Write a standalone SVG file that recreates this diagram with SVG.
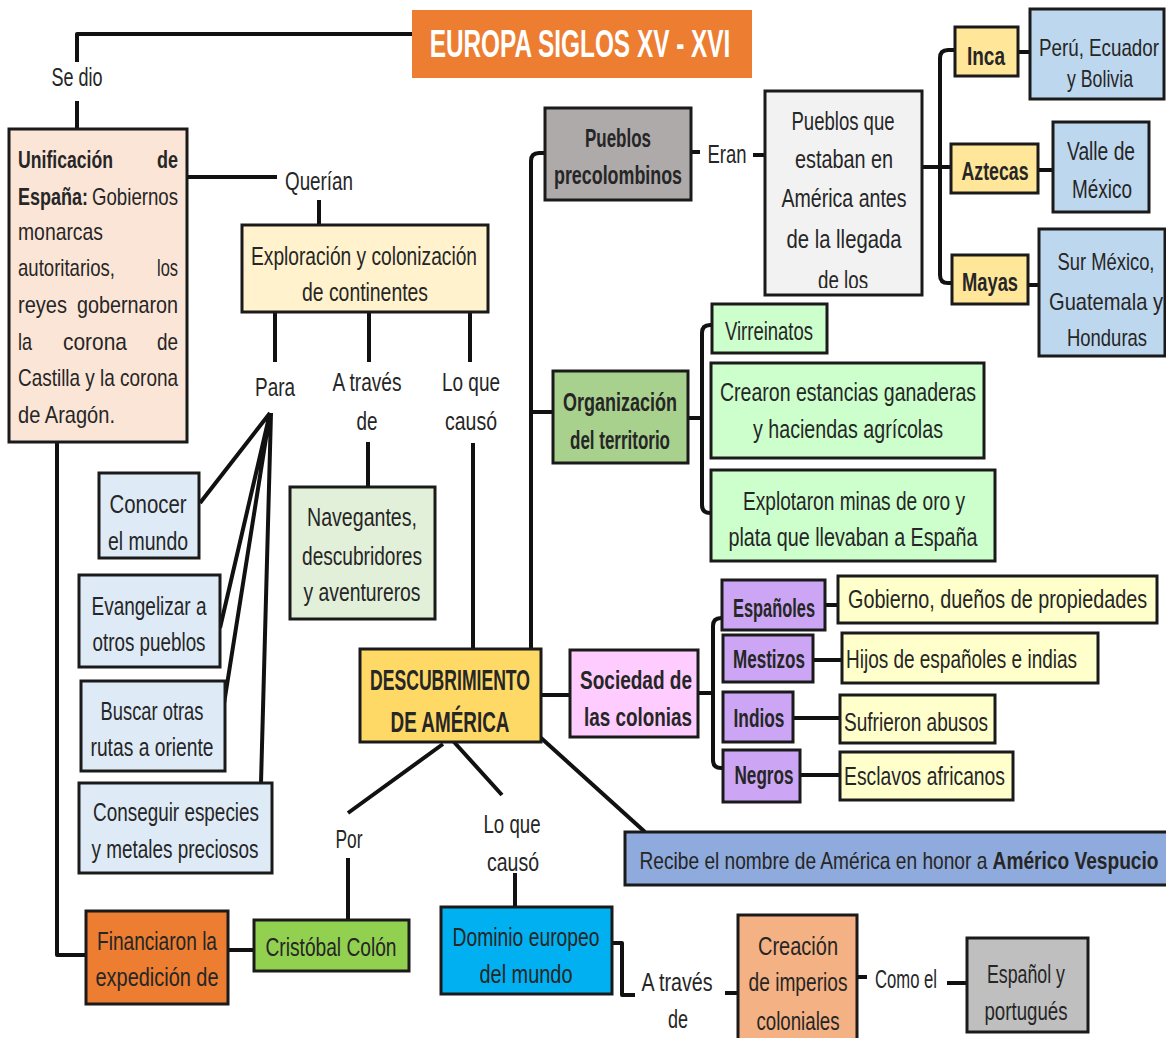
<svg xmlns="http://www.w3.org/2000/svg" width="1166" height="1038" viewBox="0 0 1166 1038">
<style>
.bx{stroke:#1a1a1a;stroke-width:3}
.ln{fill:none;stroke:#111;stroke-width:4;stroke-linejoin:round}
text{font-family:"Liberation Sans",Arial,sans-serif;font-size:25px;fill:#262626;text-anchor:middle}
.s{text-anchor:start}
.b{font-weight:bold}
.u{font-size:23px}
.m{font-size:24px}
.big{font-size:29px;font-weight:bold}
.ttl{font-size:38px;font-weight:bold;fill:#fff}
</style>
<defs>
<clipPath id="cpq"><rect x="765" y="91" width="157" height="197"/></clipPath>
</defs>
<rect width="1166" height="1038" fill="#fff"/>
<g id="connectors">
<path class="ln" d="M412,34 H77 V62"/>
<path class="ln" d="M77,101 V129"/>
<path class="ln" d="M187,177 H277"/>
<path class="ln" d="M319,200 V225"/>
<path class="ln" d="M275,312 V362 M369,312 V362 M470,312 V362"/>
<path class="ln" d="M368,442 V487"/>
<path class="ln" d="M473,443 V649"/>
<path class="ln" d="M270,413 L200,503 M270,413 L220,628 M270,413 L223,710 M271,413 L261,783"/>
<path class="ln" d="M57,442 V955 H86"/>
<path class="ln" d="M228,950 H254"/>
<path class="ln" d="M348,920 V858 M348,813 L443,744"/>
<path class="ln" d="M454,742 L502,795 M515,873 V907"/>
<path class="ln" d="M540,737 L645,832"/>
<path class="ln" d="M541,695 H570"/>
<path class="ln" d="M612,943 H622 V995 H635"/>
<path class="ln" d="M725,993 H738"/>
<path class="ln" d="M857,977 H867 M947,983 H967"/>
<path class="ln" d="M545,153 H539 Q531,153 531,161 V649 M531,412 H553"/>
<path class="ln" d="M691,152 H700 M753,155 H765"/>
<path class="ln" d="M922,167 H951 M955,50 H948 Q940,50 940,58 V275 Q940,283 948,283 H952"/>
<path class="ln" d="M1018,52 H1030 M1038,170 H1053 M1028,285 H1039"/>
<path class="ln" d="M688,418 H702 M713,325 H710 Q702,325 702,333 V505 Q702,513 710,513 H711"/>
<path class="ln" d="M698,693 H713 M722,618 H721 Q713,618 713,626 V760 Q713,768 721,768 H723"/>
<path class="ln" d="M825,605 H838 M813,660 H842 M793,718 H840 M800,775 H840"/>
</g>
<g id="title">
<rect x="412" y="10" width="340" height="68" fill="#ED7D31"/>
<text class="ttl" transform="translate(580 57) scale(.75 1)" textLength="401" lengthAdjust="spacingAndGlyphs">EUROPA SIGLOS XV - XVI</text>
</g>
<g id="lbl-sedio"><text transform="translate(77 86) scale(.75 1)" textLength="68" lengthAdjust="spacingAndGlyphs">Se dio</text></g>
<g id="unificacion">
<rect class="bx" x="9" y="129" width="178" height="313" fill="#FBE5D6"/>
<text class="s u b" transform="translate(18 168) scale(.75 1)" textLength="126.7" lengthAdjust="spacingAndGlyphs">Unificación</text>
<text class="s u b" transform="translate(157 168) scale(.75 1)" textLength="28" lengthAdjust="spacingAndGlyphs">de</text>
<text class="s u b" transform="translate(18 205) scale(.75 1)" textLength="93.3" lengthAdjust="spacingAndGlyphs">España:</text>
<text class="s u" transform="translate(92 205) scale(.75 1)" textLength="114.7" lengthAdjust="spacingAndGlyphs">Gobiernos</text>
<text class="s u" transform="translate(18 240) scale(.75 1)" textLength="113.3" lengthAdjust="spacingAndGlyphs">monarcas</text>
<text class="s u" transform="translate(18 276) scale(.75 1)" textLength="129.3" lengthAdjust="spacingAndGlyphs">autoritarios,</text>
<text class="s u" transform="translate(157 276) scale(.75 1)" textLength="28" lengthAdjust="spacingAndGlyphs">los</text>
<text class="s u" transform="translate(18 313) scale(.75 1)" textLength="65.3" lengthAdjust="spacingAndGlyphs">reyes</text>
<text class="s u" transform="translate(77 313) scale(.75 1)" textLength="134.7" lengthAdjust="spacingAndGlyphs">gobernaron</text>
<text class="s u" transform="translate(18 350) scale(.75 1)" textLength="18.7" lengthAdjust="spacingAndGlyphs">la</text>
<text class="s u" transform="translate(63 350) scale(.75 1)" textLength="85.3" lengthAdjust="spacingAndGlyphs">corona</text>
<text class="s u" transform="translate(157 350) scale(.75 1)" textLength="28" lengthAdjust="spacingAndGlyphs">de</text>
<text class="s u" transform="translate(18 386) scale(.75 1)" textLength="213.3" lengthAdjust="spacingAndGlyphs">Castilla y la corona</text>
<text class="s u" transform="translate(18 423) scale(.75 1)" textLength="129.3" lengthAdjust="spacingAndGlyphs">de Aragón.</text>
</g>
<g id="lbl-querian"><text transform="translate(319 190) scale(.75 1)" textLength="90.7" lengthAdjust="spacingAndGlyphs">Querían</text></g>
<g id="exploracion">
<rect class="bx" x="242" y="225" width="246" height="87" fill="#FFF2CC"/>
<text transform="translate(364 265) scale(.75 1)" textLength="301.3" lengthAdjust="spacingAndGlyphs">Exploración y colonización</text>
<text transform="translate(365 301) scale(.75 1)" textLength="168" lengthAdjust="spacingAndGlyphs">de continentes</text>
</g>
<g id="lbl-para"><text transform="translate(275 396) scale(.75 1)" textLength="53.3" lengthAdjust="spacingAndGlyphs">Para</text></g>
<g id="lbl-atraves1">
<text transform="translate(367 391) scale(.75 1)" textLength="92" lengthAdjust="spacingAndGlyphs">A través</text>
<text transform="translate(367 430) scale(.75 1)" textLength="28" lengthAdjust="spacingAndGlyphs">de</text>
</g>
<g id="lbl-loque1">
<text transform="translate(471 391) scale(.75 1)" textLength="77.3" lengthAdjust="spacingAndGlyphs">Lo que</text>
<text transform="translate(471 430) scale(.75 1)" textLength="69.3" lengthAdjust="spacingAndGlyphs">causó</text>
</g>
<g id="conocer">
<rect class="bx" x="99" y="473" width="100" height="85" fill="#DEEBF7"/>
<text transform="translate(148 513) scale(.75 1)" textLength="102.7" lengthAdjust="spacingAndGlyphs">Conocer</text>
<text transform="translate(148 550) scale(.75 1)" textLength="106.7" lengthAdjust="spacingAndGlyphs">el mundo</text>
</g>
<g id="evangelizar">
<rect class="bx" x="79" y="575" width="141" height="92" fill="#DEEBF7"/>
<text transform="translate(149 615) scale(.75 1)" textLength="153.3" lengthAdjust="spacingAndGlyphs">Evangelizar a</text>
<text transform="translate(149 651) scale(.75 1)" textLength="150.7" lengthAdjust="spacingAndGlyphs">otros pueblos</text>
</g>
<g id="buscar">
<rect class="bx" x="81" y="681" width="144" height="90" fill="#DEEBF7"/>
<text transform="translate(152 720) scale(.75 1)" textLength="137.3" lengthAdjust="spacingAndGlyphs">Buscar otras</text>
<text transform="translate(152 756) scale(.75 1)" textLength="164" lengthAdjust="spacingAndGlyphs">rutas a oriente</text>
</g>
<g id="conseguir">
<rect class="bx" x="79" y="783" width="193" height="90" fill="#DEEBF7"/>
<text transform="translate(176 821) scale(.75 1)" textLength="221.3" lengthAdjust="spacingAndGlyphs">Conseguir especies</text>
<text transform="translate(175 858) scale(.75 1)" textLength="222.7" lengthAdjust="spacingAndGlyphs">y metales preciosos</text>
</g>
<g id="navegantes">
<rect class="bx" x="290" y="487" width="145" height="132" fill="#E2F0D9"/>
<text transform="translate(362 526) scale(.75 1)" textLength="146.7" lengthAdjust="spacingAndGlyphs">Navegantes,</text>
<text transform="translate(362 565) scale(.75 1)" textLength="160" lengthAdjust="spacingAndGlyphs">descubridores</text>
<text transform="translate(362 601) scale(.75 1)" textLength="156" lengthAdjust="spacingAndGlyphs">y aventureros</text>
</g>
<g id="descubrimiento">
<rect class="bx" x="360" y="649" width="181" height="93" fill="#FFD966"/>
<text class="big" transform="translate(450 690) scale(.75 1)" textLength="213.3" lengthAdjust="spacingAndGlyphs">DESCUBRIMIENTO</text>
<text class="big" transform="translate(450 732) scale(.75 1)" textLength="158.7" lengthAdjust="spacingAndGlyphs">DE AMÉRICA</text>
</g>
<g id="lbl-por"><text transform="translate(349 848) scale(.75 1)" textLength="36" lengthAdjust="spacingAndGlyphs">Por</text></g>
<g id="lbl-loque2">
<text transform="translate(512 833) scale(.75 1)" textLength="76" lengthAdjust="spacingAndGlyphs">Lo que</text>
<text transform="translate(513 871) scale(.75 1)" textLength="69.3" lengthAdjust="spacingAndGlyphs">causó</text>
</g>
<g id="financiaron">
<rect class="bx" x="86" y="911" width="142" height="93" fill="#ED7D31"/>
<text transform="translate(157 950) scale(.75 1)" textLength="160" lengthAdjust="spacingAndGlyphs">Financiaron la</text>
<text transform="translate(157 986) scale(.75 1)" textLength="164" lengthAdjust="spacingAndGlyphs">expedición de</text>
</g>
<g id="colon">
<rect class="bx" x="254" y="920" width="155" height="51" fill="#92D050"/>
<text transform="translate(331 956) scale(.75 1)" textLength="174.7" lengthAdjust="spacingAndGlyphs">Cristóbal Colón</text>
</g>
<g id="dominio">
<rect class="bx" x="441" y="907" width="171" height="87" fill="#00B0F0"/>
<text transform="translate(526 946) scale(.75 1)" textLength="196" lengthAdjust="spacingAndGlyphs">Dominio europeo</text>
<text transform="translate(526 983) scale(.75 1)" textLength="124" lengthAdjust="spacingAndGlyphs">del mundo</text>
</g>
<g id="recibe">
<rect class="bx" x="625" y="832" width="548" height="53" fill="#8FAADC"/>
<text style="font-size:23px" transform="translate(899 869) scale(.75 1)" textLength="692" lengthAdjust="spacingAndGlyphs">Recibe el nombre de América en honor a <tspan class="b">Américo Vespucio</tspan></text>
</g>
<g id="lbl-atraves2">
<text transform="translate(677 991) scale(.75 1)" textLength="94.7" lengthAdjust="spacingAndGlyphs">A través</text>
<text transform="translate(678 1028) scale(.75 1)" textLength="26.7" lengthAdjust="spacingAndGlyphs">de</text>
</g>
<g id="creacion">
<rect class="bx" x="738" y="915" width="119" height="135" fill="#F4B183"/>
<text transform="translate(798 955) scale(.75 1)" textLength="106.7" lengthAdjust="spacingAndGlyphs">Creación</text>
<text transform="translate(798 991) scale(.75 1)" textLength="132" lengthAdjust="spacingAndGlyphs">de imperios</text>
<text transform="translate(798 1030) scale(.75 1)" textLength="110.7" lengthAdjust="spacingAndGlyphs">coloniales</text>
</g>
<g id="lbl-comoel"><text transform="translate(906 988) scale(.75 1)" textLength="82.7" lengthAdjust="spacingAndGlyphs">Como el</text></g>
<g id="espanol">
<rect class="bx" x="967" y="938" width="121" height="94" fill="#BFBFBF"/>
<text transform="translate(1026 983) scale(.75 1)" textLength="104" lengthAdjust="spacingAndGlyphs">Español y</text>
<text transform="translate(1026 1020) scale(.75 1)" textLength="110.7" lengthAdjust="spacingAndGlyphs">portugués</text>
</g>
<g id="precolombinos">
<rect class="bx" x="545" y="108" width="146" height="92" fill="#AEAAAA"/>
<text class="b" transform="translate(618 147) scale(.75 1)" textLength="88" lengthAdjust="spacingAndGlyphs">Pueblos</text>
<text class="b" transform="translate(618 184) scale(.75 1)" textLength="170.7" lengthAdjust="spacingAndGlyphs">precolombinos</text>
</g>
<g id="lbl-eran"><text transform="translate(727 163) scale(.75 1)" textLength="52" lengthAdjust="spacingAndGlyphs">Eran</text></g>
<g id="pueblosque">
<rect class="bx" x="765" y="91" width="157" height="204" fill="#F2F2F2"/>
<g clip-path="url(#cpq)">
<text transform="translate(843 130) scale(.75 1)" textLength="137.3" lengthAdjust="spacingAndGlyphs">Pueblos que</text>
<text transform="translate(844 168) scale(.75 1)" textLength="130.7" lengthAdjust="spacingAndGlyphs">estaban en</text>
<text transform="translate(844 207) scale(.75 1)" textLength="166.7" lengthAdjust="spacingAndGlyphs">América antes</text>
<text transform="translate(844 248) scale(.75 1)" textLength="153.3" lengthAdjust="spacingAndGlyphs">de la llegada</text>
<text transform="translate(843 289) scale(.75 1)" textLength="66.7" lengthAdjust="spacingAndGlyphs">de los</text>
</g>
</g>
<g id="inca">
<rect class="bx" x="955" y="27" width="63" height="49" fill="#FFE699"/>
<text class="b" transform="translate(986 65) scale(.75 1)" textLength="50.7" lengthAdjust="spacingAndGlyphs">Inca</text>
</g>
<g id="peru">
<rect class="bx" x="1030" y="9" width="134" height="90" fill="#BDD7EE"/>
<text class="m" transform="translate(1099 56) scale(.75 1)" textLength="160" lengthAdjust="spacingAndGlyphs">Perú, Ecuador</text>
<text class="m" transform="translate(1100 87) scale(.75 1)" textLength="88" lengthAdjust="spacingAndGlyphs">y Bolivia</text>
</g>
<g id="aztecas">
<rect class="bx" x="951" y="144" width="87" height="49" fill="#FFE699"/>
<text class="b" transform="translate(995 180) scale(.75 1)" textLength="89.3" lengthAdjust="spacingAndGlyphs">Aztecas</text>
</g>
<g id="valle">
<rect class="bx" x="1053" y="122" width="96" height="90" fill="#BDD7EE"/>
<text transform="translate(1101 160) scale(.75 1)" textLength="90.7" lengthAdjust="spacingAndGlyphs">Valle de</text>
<text transform="translate(1102 198) scale(.75 1)" textLength="80" lengthAdjust="spacingAndGlyphs">México</text>
</g>
<g id="mayas">
<rect class="bx" x="952" y="255" width="76" height="49" fill="#FFE699"/>
<text class="b" transform="translate(990 291) scale(.75 1)" textLength="74.7" lengthAdjust="spacingAndGlyphs">Mayas</text>
</g>
<g id="sur">
<rect class="bx" x="1039" y="229" width="126" height="127" fill="#BDD7EE"/>
<text class="m" transform="translate(1106 270) scale(.75 1)" textLength="129.3" lengthAdjust="spacingAndGlyphs">Sur México,</text>
<text class="m" transform="translate(1106 310) scale(.75 1)" textLength="152" lengthAdjust="spacingAndGlyphs">Guatemala y</text>
<text class="m" transform="translate(1107 346) scale(.75 1)" textLength="106.7" lengthAdjust="spacingAndGlyphs">Honduras</text>
</g>
<g id="virreinatos">
<rect class="bx" x="712" y="304" width="115" height="49" fill="#CCFFCC"/>
<text transform="translate(769 340) scale(.75 1)" textLength="117.3" lengthAdjust="spacingAndGlyphs">Virreinatos</text>
</g>
<g id="organizacion">
<rect class="bx" x="553" y="371" width="135" height="92" fill="#A9D18E"/>
<text class="b" transform="translate(620 411) scale(.75 1)" textLength="152" lengthAdjust="spacingAndGlyphs">Organización</text>
<text class="b" transform="translate(620 449) scale(.75 1)" textLength="133.3" lengthAdjust="spacingAndGlyphs">del territorio</text>
</g>
<g id="crearon">
<rect class="bx" x="711" y="363" width="273" height="95" fill="#CCFFCC"/>
<text transform="translate(848 401) scale(.75 1)" textLength="341.3" lengthAdjust="spacingAndGlyphs">Crearon estancias ganaderas</text>
<text transform="translate(848 438) scale(.75 1)" textLength="253.3" lengthAdjust="spacingAndGlyphs">y haciendas agrícolas</text>
</g>
<g id="explotaron">
<rect class="bx" x="711" y="470" width="284" height="91" fill="#CCFFCC"/>
<text transform="translate(854 510) scale(.75 1)" textLength="296" lengthAdjust="spacingAndGlyphs">Explotaron minas de oro y</text>
<text transform="translate(853 546) scale(.75 1)" textLength="332" lengthAdjust="spacingAndGlyphs">plata que llevaban a España</text>
</g>
<g id="sociedad">
<rect class="bx" x="570" y="650" width="128" height="87" fill="#FFCCFF"/>
<text class="b" transform="translate(636 689) scale(.75 1)" textLength="149.3" lengthAdjust="spacingAndGlyphs">Sociedad de</text>
<text class="b" transform="translate(638 726) scale(.75 1)" textLength="144" lengthAdjust="spacingAndGlyphs">las colonias</text>
</g>
<g id="espanoles">
<rect class="bx" x="722" y="580" width="103" height="50" fill="#CCA6F5"/>
<text class="b" transform="translate(774 617) scale(.75 1)" textLength="109.3" lengthAdjust="spacingAndGlyphs">Españoles</text>
</g>
<g id="gobierno">
<rect class="bx" x="838" y="576" width="319" height="47" fill="#FFFFCC"/>
<text class="s" transform="translate(848 608) scale(.75 1)" textLength="398.7" lengthAdjust="spacingAndGlyphs">Gobierno, dueños de propiedades</text>
</g>
<g id="mestizos">
<rect class="bx" x="723" y="635" width="90" height="47" fill="#CCA6F5"/>
<text class="b" transform="translate(769 668) scale(.75 1)" textLength="96" lengthAdjust="spacingAndGlyphs">Mestizos</text>
</g>
<g id="hijos">
<rect class="bx" x="842" y="633" width="256" height="50" fill="#FFFFCC"/>
<text class="s" transform="translate(846 668) scale(.75 1)" textLength="308" lengthAdjust="spacingAndGlyphs">Hijos de españoles e indias</text>
</g>
<g id="indios">
<rect class="bx" x="723" y="692" width="70" height="50" fill="#CCA6F5"/>
<text class="b" transform="translate(759 727) scale(.75 1)" textLength="68" lengthAdjust="spacingAndGlyphs">Indios</text>
</g>
<g id="sufrieron">
<rect class="bx" x="840" y="695" width="155" height="48" fill="#FFFFCC"/>
<text class="s" transform="translate(844 731) scale(.75 1)" textLength="192" lengthAdjust="spacingAndGlyphs">Sufrieron abusos</text>
</g>
<g id="negros">
<rect class="bx" x="723" y="750" width="77" height="52" fill="#CCA6F5"/>
<text class="b" transform="translate(764 784) scale(.75 1)" textLength="78.7" lengthAdjust="spacingAndGlyphs">Negros</text>
</g>
<g id="esclavos">
<rect class="bx" x="840" y="752" width="173" height="48" fill="#FFFFCC"/>
<text class="s" transform="translate(844 785) scale(.75 1)" textLength="214.7" lengthAdjust="spacingAndGlyphs">Esclavos africanos</text>
</g>
</svg>
